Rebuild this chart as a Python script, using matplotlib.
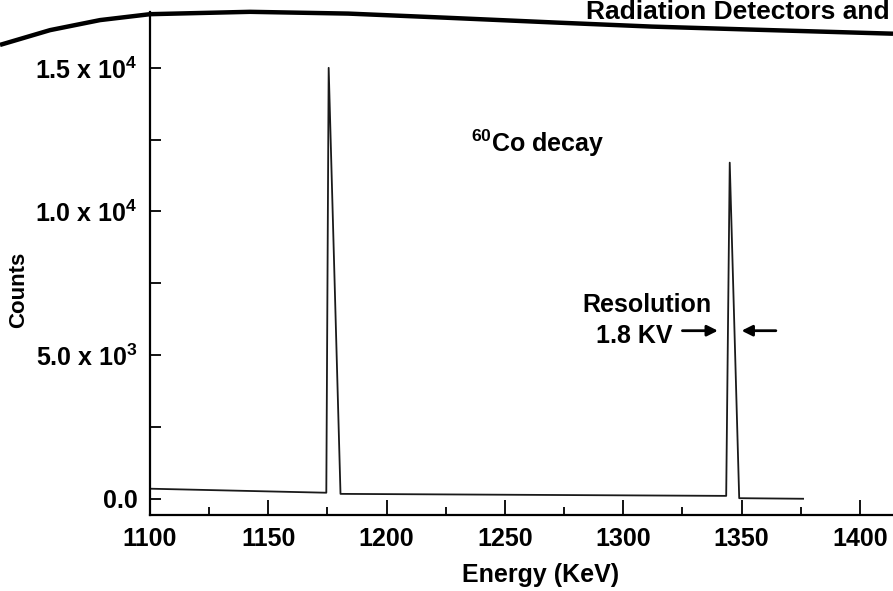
import matplotlib
matplotlib.use("Agg")
import matplotlib.pyplot as plt
from matplotlib.ticker import FixedLocator, FixedFormatter, MultipleLocator
from matplotlib.lines import Line2D

plt.rcParams['font.family'] = ['Liberation Sans', 'DejaVu Sans']
plt.rcParams['font.weight'] = 'bold'
plt.rcParams['mathtext.fontset'] = 'custom'
plt.rcParams['mathtext.rm'] = 'Liberation Sans'
plt.rcParams['mathtext.bf'] = 'Liberation Sans:bold'

# spectrum outline (energy in keV, counts)
energy = [1100, 1174.5, 1175.5, 1180.5, 1343.5, 1345, 1349, 1376]
counts = [350, 210, 15000, 170, 100, 11700, 20, 0]

x_ticks = [1100, 1150, 1200, 1250, 1300, 1350, 1400]
x_labels = ['1100', '1150', '1200', '1250', '1300', '1350', '1400']
y_ticks = [0, 5000, 10000, 15000]
y_labels = ['0.0', r'5.0 x 10$^{\mathregular{3}}$',
            r'1.0 x 10$^{\mathregular{4}}$', r'1.5 x 10$^{\mathregular{4}}$']

# page header curve (figure fractions) from the scanned book page
header_x = [0.0, 0.056, 0.112, 0.168, 0.28, 0.39, 0.50, 0.62, 0.73, 0.84, 1.0]
header_y = [0.924, 0.949, 0.966, 0.976, 0.980, 0.977, 0.970, 0.962, 0.955, 0.950, 0.943]

fig = plt.figure(figsize=(8.93, 5.91), dpi=100)
ax = fig.add_axes([0.168, 0.129, 0.832, 0.851])

ax.plot(energy, counts, color='#1a1a1a', lw=1.3)

ax.set_xlim(1100, 1414)
ax.set_ylim(-557, 16950)

ax.xaxis.set_major_locator(FixedLocator(x_ticks))
ax.xaxis.set_major_formatter(FixedFormatter(x_labels))
ax.xaxis.set_minor_locator(MultipleLocator(25))
ax.yaxis.set_major_locator(FixedLocator(y_ticks))
ax.yaxis.set_major_formatter(FixedFormatter(y_labels))
ax.yaxis.set_minor_locator(MultipleLocator(2500))

ax.tick_params(axis='x', which='major', direction='in', length=11, width=1.3,
               pad=9, labelsize=18)
ax.tick_params(axis='x', which='minor', direction='in', length=6, width=1.3)
ax.tick_params(axis='y', which='both', direction='in', length=8, width=1.3,
               pad=9, labelsize=18)

for s in ['top', 'right']:
    ax.spines[s].set_visible(False)
for s in ['left', 'bottom']:
    ax.spines[s].set_linewidth(1.6)

ax.set_xlabel('Energy (KeV)', fontsize=18, fontweight='bold')
ax.xaxis.set_label_coords(0.525, -0.095)
ax.set_ylabel('Counts', fontsize=16, fontweight='bold')
ax.yaxis.set_label_coords(-0.163, 0.447)

ax.text(1235.5, 12080, r'$^{\mathbf{60}}$Co decay', fontsize=18,
        fontweight='bold', ha='left', va='baseline')
ax.text(1337.3, 6500, 'Resolution', fontsize=18, fontweight='bold',
        ha='right', va='baseline')
ax.text(1321, 5430, '1.8 KV', fontsize=18, fontweight='bold',
        ha='right', va='baseline')
arrow = dict(arrowstyle='-|>', color='black', lw=2, mutation_scale=16,
             shrinkA=0, shrinkB=0)
ax.annotate('', xy=(1340, 5850), xytext=(1325, 5850), arrowprops=arrow)
ax.annotate('', xy=(1350, 5850), xytext=(1364.5, 5850), arrowprops=arrow)

fig.add_artist(Line2D(header_x, header_y, transform=fig.transFigure,
                      color='black', lw=3.2, solid_capstyle='butt'))
fig.text(0.996, 0.968, 'Radiation Detectors and', fontsize=19,
         fontweight='bold', ha='right', va='baseline')

fig.savefig('out.png', dpi=100)
